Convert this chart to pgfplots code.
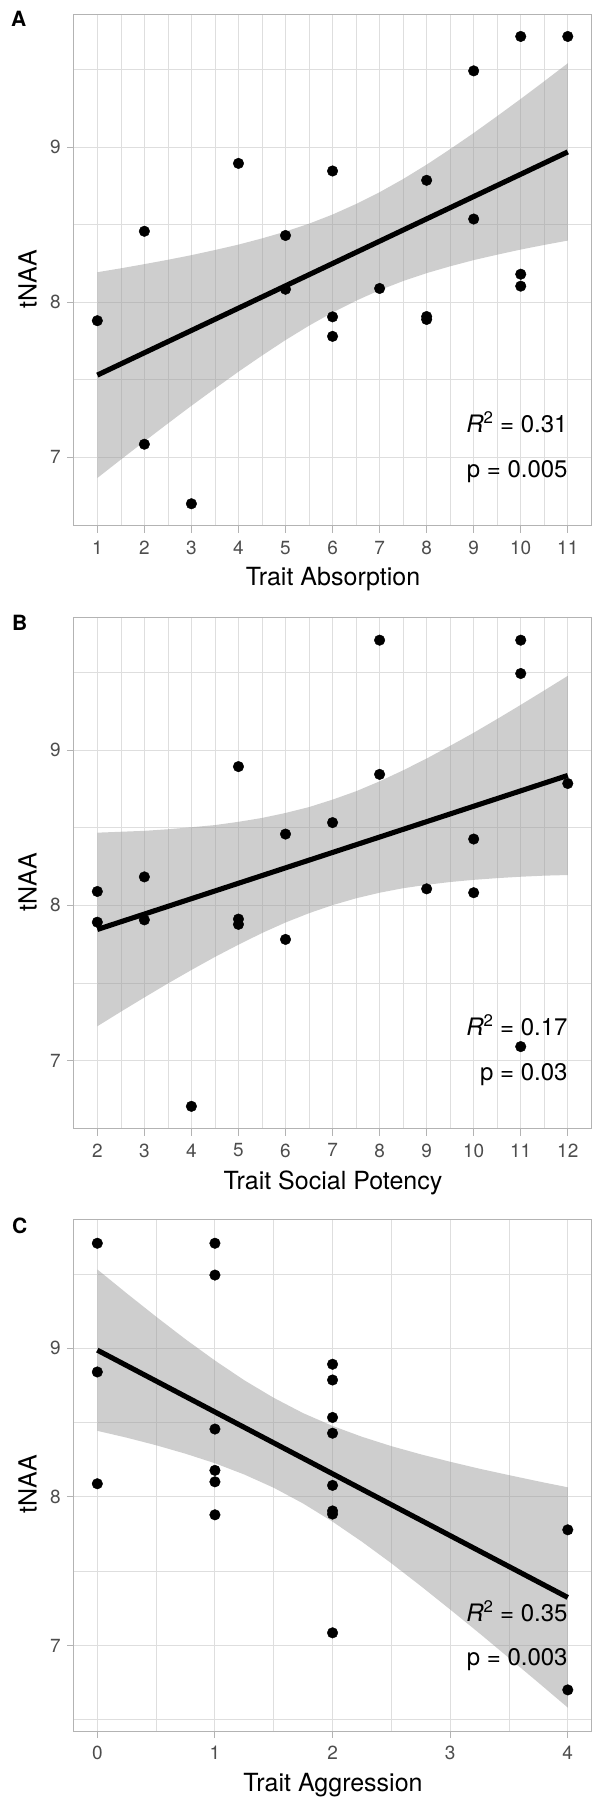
\documentclass[border=0pt]{standalone}
\usepackage{fontspec}
\setmainfont{TeX Gyre Heros}
\usepackage{pgfplots}
\pgfplotsset{compat=1.18}
\definecolor{g87}{RGB}{222,222,222}
\definecolor{g70}{RGB}{179,179,179}
\definecolor{g30}{RGB}{77,77,77}
\definecolor{g60}{RGB}{150,150,150}
\tikzset{ann/.style={anchor=base east, inner sep=0pt, font=\fontsize{24}{24}\selectfont}}
\pgfplotsset{
  panel/.style={
    scale only axis, width=517.5pt, height=511.3pt, anchor=north west,
    axis line style={draw=g70, line width=1.1pt},
    grid=both,
    major grid style={draw=g87, line width=1.1pt},
    minor grid style={draw=g87, line width=0.6pt},
    tick align=outside, major tick length=7pt, minor tick length=0pt,
    xtick pos=bottom, ytick pos=left,
    every tick/.style={draw=g70, line width=1.1pt},
    ticklabel style={font=\fontsize{19}{19}\selectfont, text=g30, inner sep=0pt},
    xticklabel style={yshift=-8pt},
    yticklabel style={xshift=-6pt},
    /pgf/number format/assume math mode=true,
    ytick={7,8,9}, minor ytick={6.5,7.5,8.5,9.5},
  },
  pts/.style={only marks, mark=*, mark size=5.3pt, black, mark options={draw=black, fill=black}},
  rib/.style={draw=none, fill=g60, fill opacity=0.47, mark=none},
  fit/.style={black, line width=5.1pt, mark=none},
}
\begin{document}
\begin{tikzpicture}
\useasboundingbox (0pt,0pt) rectangle (600pt,-1800pt);
% ---------- A ----------
\begin{axis}[panel, at={(73.8pt,-14.6pt)}, xmin=0.5, xmax=11.5, ymin=6.557, ymax=9.856,
  xtick={1,2,3,4,5,6,7,8,9,10,11}, minor xtick={1.5,2.5,3.5,4.5,5.5,6.5,7.5,8.5,9.5,10.5}]
\addplot[pts] coordinates {(1,7.881) (2,8.458) (2,7.084) (3,6.700) (4,8.896) (5,8.431) (5,8.084) (6,8.847) (6,7.906) (6,7.780) (7,8.089) (8,8.787) (8,7.908) (8,7.889) (9,9.493) (9,8.537) (10,9.715) (10,8.181) (10,8.104) (11,9.715)};
\addplot[rib] coordinates {(1,8.194) (1.5,8.219) (2,8.246) (2.5,8.274) (3,8.304) (3.5,8.337) (4,8.372) (4.5,8.412) (5,8.456) (5.5,8.507) (6,8.566) (6.5,8.634) (7,8.710) (7.5,8.795) (8,8.888) (8.5,8.988) (9,9.092) (9.5,9.201) (10,9.312) (10.5,9.426) (11,9.542)
 (11,8.398) (10.5,8.370) (10,8.340) (9.5,8.307) (9,8.272) (8.5,8.232) (8,8.188) (7.5,8.137) (7,8.078) (6.5,8.010) (6,7.934) (5.5,7.849) (5,7.756) (4.5,7.656) (4,7.552) (3.5,7.443) (3,7.332) (2.5,7.218) (2,7.102) (1.5,6.985) (1,6.866)} -- cycle;
\addplot[fit] coordinates {(1,7.530) (11,8.970)};
\node[ann] at (axis cs:11,7.16) {\textit{R}\textsuperscript{2} = 0.31};
\node[ann] at (axis cs:11,6.868) {p = 0.005};
\end{axis}
% ---------- B ----------
\begin{axis}[panel, at={(73.8pt,-617.2pt)}, xmin=1.5, xmax=12.5, ymin=6.561, ymax=9.857,
  xtick={2,3,4,5,6,7,8,9,10,11,12}, minor xtick={2.5,3.5,4.5,5.5,6.5,7.5,8.5,9.5,10.5,11.5}]
\addplot[pts] coordinates {(2,8.089) (2,7.891) (3,8.183) (3,7.906) (4,6.704) (5,8.894) (5,7.911) (5,7.877) (6,8.459) (6,7.780) (7,8.533) (8,9.709) (8,8.844) (9,8.106) (10,8.427) (10,8.081) (11,9.709) (11,9.494) (11,7.089) (12,8.785)};
\addplot[rib] coordinates {(2,8.468) (2.5,8.474) (3,8.480) (3.5,8.490) (4,8.503) (4.5,8.517) (5,8.538) (5.5,8.563) (6,8.595) (6.5,8.633) (7,8.681) (7.5,8.735) (8,8.799) (8.5,8.870) (9,8.946) (9.5,9.028) (10,9.112) (10.5,9.201) (11,9.292) (11.5,9.385) (12,9.479)
 (12,8.195) (11.5,8.191) (11,8.184) (10.5,8.175) (10,8.164) (9.5,8.150) (9,8.132) (8.5,8.110) (8,8.081) (7.5,8.045) (7,8.001) (6.5,7.949) (6,7.889) (5.5,7.821) (5,7.746) (4.5,7.667) (4,7.583) (3.5,7.496) (3,7.406) (2.5,7.314) (2,7.220)} -- cycle;
\addplot[fit] coordinates {(2,7.844) (12,8.837)};
\node[ann] at (axis cs:12,7.16) {\textit{R}\textsuperscript{2} = 0.17};
\node[ann] at (axis cs:12,6.868) {p = 0.03};
\end{axis}
% ---------- C ----------
\begin{axis}[panel, at={(73.8pt,-1219.9pt)}, xmin=-0.2, xmax=4.2, ymin=6.423, ymax=9.863,
  xtick={0,1,2,3,4}, minor xtick={0.5,1.5,2.5,3.5}]
\addplot[pts] coordinates {(0,9.706) (0,8.840) (0,8.088) (1,9.706) (1,9.492) (1,8.456) (1,8.178) (1,8.101) (1,7.879) (2,8.892) (2,8.786) (2,8.534) (2,8.428) (2,8.077) (2,7.905) (2,7.884) (2,7.085) (4,7.778) (4,6.701)};
\addplot[rib] coordinates {(0,9.530) (0.25,9.369) (0.5,9.212) (0.75,9.060) (1,8.917) (1.25,8.784) (1.5,8.666) (1.75,8.563) (2,8.477) (2.25,8.404) (2.5,8.341) (2.75,8.286) (3,8.236) (3.25,8.189) (3.5,8.146) (3.75,8.104) (4,8.064)
 (4,6.582) (3.75,6.750) (3.5,6.916) (3.25,7.081) (3,7.242) (2.75,7.400) (2.5,7.553) (2.25,7.698) (2,7.833) (1.75,7.955) (1.5,8.061) (1.25,8.150) (1,8.226) (0.75,8.290) (0.5,8.347) (0.25,8.398) (0,8.444)} -- cycle;
\addplot[fit] coordinates {(0,8.987) (4,7.323)};
\node[ann] at (axis cs:4,7.16) {\textit{R}\textsuperscript{2} = 0.35};
\node[ann] at (axis cs:4,6.868) {p = 0.003};
\end{axis}
% ---------- titles ----------
\begin{scope}[every node/.style={inner sep=0pt, font=\fontsize{25}{25}\selectfont}]
\node[anchor=base] at (333pt,-585pt) {Trait Absorption};
\node[anchor=base] at (333pt,-1189pt) {Trait Social Potency};
\node[anchor=base] at (333pt,-1791pt) {Trait Aggression};
\node[anchor=base, rotate=90] at (36.7pt,-279pt) {tNAA};
\node[anchor=base, rotate=90] at (36.7pt,-882pt) {tNAA};
\node[anchor=base, rotate=90] at (36.7pt,-1484pt) {tNAA};
\end{scope}
\begin{scope}[every node/.style={inner sep=0pt, anchor=base west, font=\bfseries\fontsize{21}{21}\selectfont}]
\node at (11pt,-26.7pt) {A};
\node at (12pt,-630pt) {B};
\node at (12pt,-1233pt) {C};
\end{scope}
\end{tikzpicture}
\end{document}
